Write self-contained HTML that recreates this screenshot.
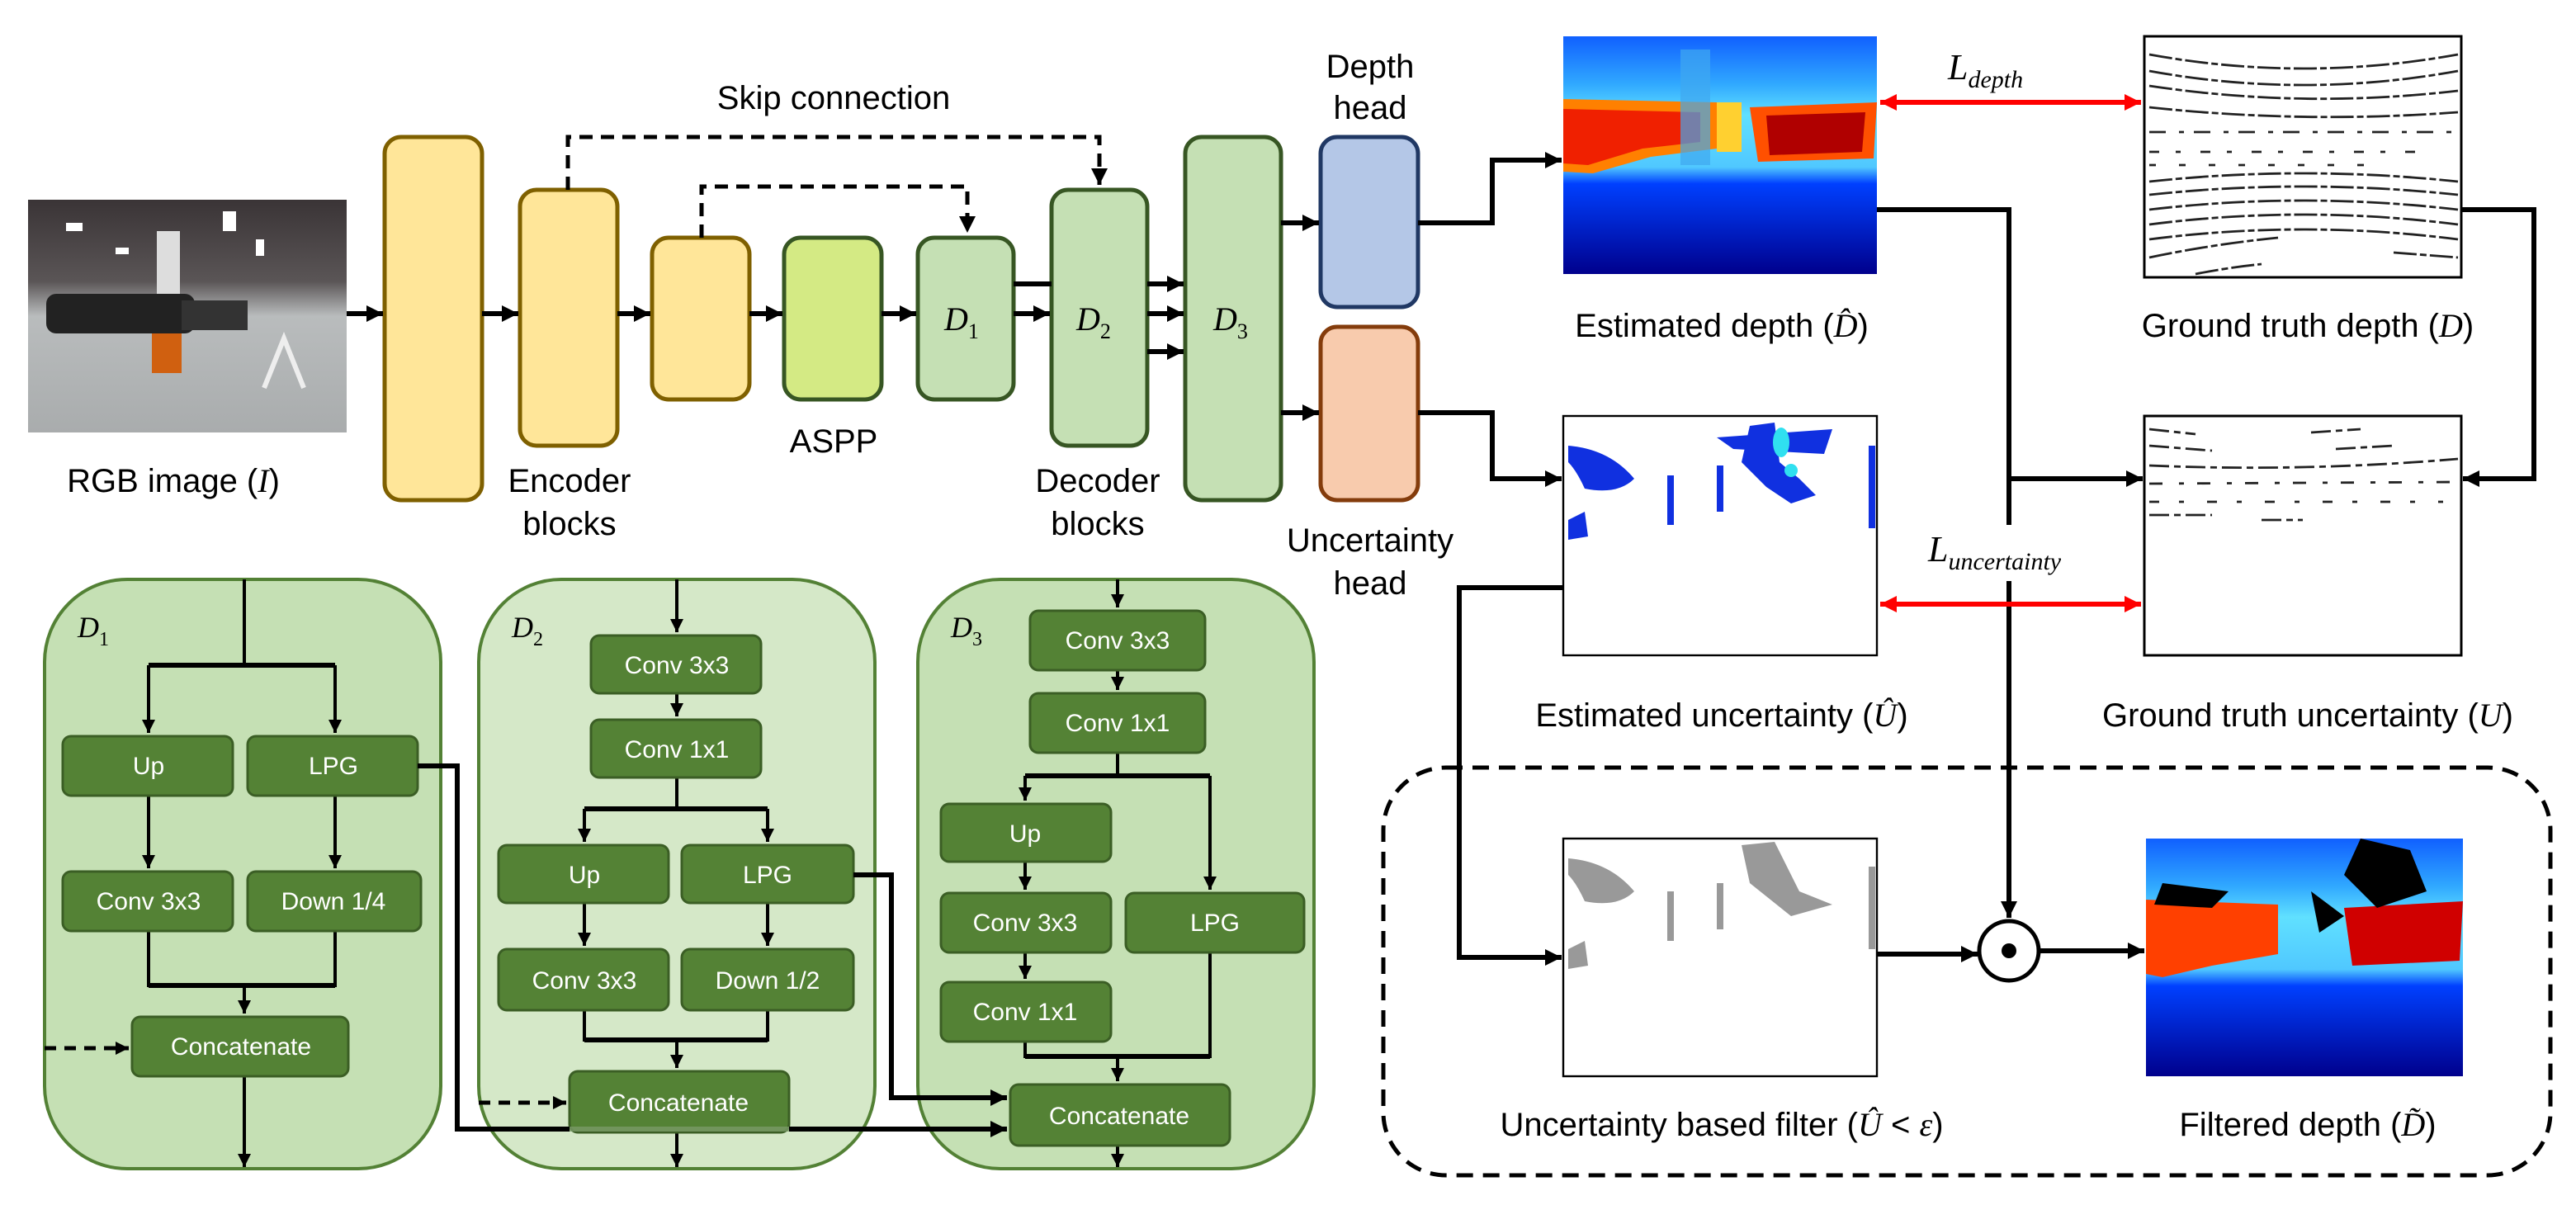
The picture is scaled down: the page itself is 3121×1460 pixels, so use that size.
<!DOCTYPE html>
<html><head><meta charset="utf-8"><style>
html,body{margin:0;padding:0;background:#fff}
svg{display:block}
text{font-family:"Liberation Sans",sans-serif}
.m{font-family:"Liberation Serif",serif;font-style:italic}
.bx{fill:#548235;stroke:#3b5e25;stroke-width:1.5}
.bt{fill:#fff;font-size:15px;text-anchor:middle}
.lbl{font-size:20px;text-anchor:middle;fill:#000}
</style></head><body>
<svg width="3121" height="1460" viewBox="0 0 1560.5 730" xmlns="http://www.w3.org/2000/svg">
<defs>
<marker id="a" markerUnits="userSpaceOnUse" markerWidth="12" markerHeight="12" refX="10" refY="5" orient="auto"><path d="M0,0 L10,5 L0,10 z" fill="#000"/></marker>
<marker id="as" markerUnits="userSpaceOnUse" markerWidth="10" markerHeight="10" refX="8" refY="4" orient="auto"><path d="M0,0 L8,4 L0,8 z" fill="#000"/></marker>
<marker id="r" markerUnits="userSpaceOnUse" markerWidth="12" markerHeight="12" refX="10" refY="5" orient="auto-start-reverse"><path d="M0,0 L10,5 L0,10 z" fill="#f00"/></marker>
<linearGradient id="rgb" x1="0" y1="0" x2="0" y2="1"><stop offset="0" stop-color="#3a3436"/><stop offset="0.35" stop-color="#5a5556"/><stop offset="0.5" stop-color="#b9bcbd"/><stop offset="1" stop-color="#a9acad"/></linearGradient>
<linearGradient id="dep" x1="0" y1="0" x2="0" y2="1"><stop offset="0" stop-color="#1060ff"/><stop offset="0.2" stop-color="#30a8ff"/><stop offset="0.33" stop-color="#60e0ff"/><stop offset="0.55" stop-color="#50c8ff"/><stop offset="0.62" stop-color="#0040ff"/><stop offset="1" stop-color="#00008c"/></linearGradient>
</defs>

<rect x="17" y="121" width="193" height="141" fill="url(#rgb)"/>
<rect x="95" y="140" width="14" height="80" fill="#ddd"/>
<rect x="92" y="200" width="18" height="26" fill="#d06010"/>
<rect x="28" y="178" width="90" height="24" rx="6" fill="#222"/>
<rect x="110" y="182" width="40" height="18" fill="#333"/>
<path d="M160 235 L172 205 L184 235" stroke="#eee" stroke-width="3" fill="none"/>
<g fill="#fff"><rect x="135" y="128" width="8" height="12"/><rect x="40" y="135" width="10" height="5"/><rect x="70" y="150" width="8" height="4"/><rect x="155" y="145" width="5" height="10"/></g>
<text class="lbl" x="105" y="298">RGB image (<tspan class="m">I</tspan>)</text>

<g stroke-width="2.5">
<rect x="233" y="83" width="59" height="220" rx="10" fill="#ffe699" stroke="#7f6000"/>
<rect x="315" y="115" width="59" height="155" rx="10" fill="#ffe699" stroke="#7f6000"/>
<rect x="395" y="144" width="59" height="98" rx="10" fill="#ffe699" stroke="#7f6000"/>
<rect x="475" y="144" width="59" height="98" rx="10" fill="#d4ea84" stroke="#375623"/>
<rect x="556" y="144" width="58" height="98" rx="10" fill="#c5e0b4" stroke="#375623"/>
<rect x="637" y="115" width="58" height="155" rx="10" fill="#c5e0b4" stroke="#375623"/>
<rect x="718" y="83" width="58" height="220" rx="10" fill="#c5e0b4" stroke="#375623"/>
<rect x="800" y="83" width="59" height="103" rx="10" fill="#b4c7e7" stroke="#203864"/>
<rect x="800" y="198" width="59" height="105" rx="10" fill="#f8cbad" stroke="#843c0c"/>
</g>
<text class="m" x="572" y="200" font-size="20">D<tspan font-size="13" dy="5" font-style="normal">1</tspan></text>
<text class="m" x="652" y="200" font-size="20">D<tspan font-size="13" dy="5" font-style="normal">2</tspan></text>
<text class="m" x="735" y="200" font-size="20">D<tspan font-size="13" dy="5" font-style="normal">3</tspan></text>

<g stroke="#000" stroke-width="3" fill="none" marker-end="url(#a)">
<line x1="210" y1="190" x2="232" y2="190"/>
<line x1="292" y1="190" x2="314" y2="190"/>
<line x1="374" y1="190" x2="394" y2="190"/>
<line x1="454" y1="190" x2="474" y2="190"/>
<line x1="534" y1="190" x2="555" y2="190"/>
<line x1="614" y1="190" x2="636" y2="190"/>
<line x1="695" y1="172" x2="717" y2="172"/>
<line x1="695" y1="190" x2="717" y2="190"/>
<line x1="695" y1="213" x2="717" y2="213"/>
<line x1="776" y1="135" x2="799" y2="135"/>
<line x1="776" y1="250" x2="799" y2="250"/>
</g>
<line x1="614" y1="172" x2="637" y2="172" stroke="#000" stroke-width="3"/>
<g stroke="#000" stroke-width="2.5" fill="none" stroke-dasharray="8,5">
<path d="M344 115 V83 H666 V112" marker-end="url(#a)"/>
<path d="M425 144 V113 H586 V141" marker-end="url(#a)"/>
</g>
<text class="lbl" x="505" y="66">Skip connection</text>
<text class="lbl" x="345" y="298">Encoder</text><text class="lbl" x="345" y="324">blocks</text>
<text class="lbl" x="505" y="274">ASPP</text>
<text class="lbl" x="665" y="298">Decoder</text><text class="lbl" x="665" y="324">blocks</text>
<text class="lbl" x="830" y="47">Depth</text><text class="lbl" x="830" y="72">head</text>
<text class="lbl" x="830" y="334">Uncertainty</text><text class="lbl" x="830" y="360">head</text>

<g stroke="#000" stroke-width="3" fill="none">
<path d="M859 135 H904 V97 H946" marker-end="url(#a)"/>
<path d="M859 250 H904 V290 H946" marker-end="url(#a)"/>
<path d="M1137 127 H1217 V556" marker-end="url(#a)"/>
<path d="M1217 290 H1298" marker-end="url(#a)"/>
<path d="M1491 127 H1535 V290 H1492" marker-end="url(#a)"/>
<path d="M947 356 H884 V580 H946" marker-end="url(#a)"/>
<path d="M1137 578 H1198" marker-end="url(#a)"/>
<path d="M1236 576 H1299" marker-end="url(#a)"/>
</g>
<g stroke="#f00" stroke-width="3" marker-start="url(#r)" marker-end="url(#r)">
<line x1="1139" y1="62" x2="1297" y2="62"/>
<line x1="1139" y1="366" x2="1297" y2="366"/>
</g>
<text class="m" x="1180" y="48" font-size="22">L<tspan font-size="15" dy="5">depth</tspan></text>
<rect x="1160" y="318" width="110" height="34" fill="#fff"/>
<text class="m" x="1168" y="340" font-size="22">L<tspan font-size="15" dy="5">uncertainty</tspan></text>

<rect x="947" y="22" width="190" height="144" fill="url(#dep)"/>
<path d="M947 60 L1040 62 L1040 90 L1000 95 L965 105 L947 104 Z" fill="#ff8000"/>
<path d="M947 66 L1030 68 L1030 86 L995 90 L962 100 L947 99 Z" fill="#f02000"/>
<path d="M1060 65 L1137 62 L1135 96 L1065 98 Z" fill="#ff5000"/>
<path d="M1070 70 L1130 68 L1128 92 L1072 94 Z" fill="#b00000"/>
<rect x="1040" y="62" width="15" height="30" fill="#ffd030"/>
<rect x="1018" y="30" width="18" height="70" fill="#40a8f0" opacity="0.7"/>
<text class="lbl" x="1043" y="204">Estimated depth (<tspan class="m">D̂</tspan>)</text>

<rect x="1299" y="22" width="192" height="146" fill="#fff" stroke="#000" stroke-width="1.5"/>
<g stroke="#222" stroke-width="1.4" fill="none" stroke-dasharray="14,2,4,2">
<path d="M1302 33 Q1395 50 1489 33"/><path d="M1302 43 Q1395 60 1489 43"/><path d="M1302 52 Q1395 66 1489 55"/>
<path d="M1302 65 Q1395 75 1489 68"/><path d="M1302 80 L1490 80" stroke-dasharray="10,8,3,6"/><path d="M1302 92 L1470 92" stroke-dasharray="6,10,3,12"/>
<path d="M1302 100 L1440 100" stroke-dasharray="4,14"/>
<path d="M1302 110 Q1395 100 1489 110"/><path d="M1302 118 Q1395 108 1489 118"/><path d="M1302 127 Q1395 116 1489 127"/>
<path d="M1302 136 Q1395 124 1489 136"/><path d="M1302 145 Q1395 133 1489 145"/><path d="M1302 156 Q1340 148 1380 144"/><path d="M1330 166 Q1350 162 1370 160"/><path d="M1450 153 L1489 156"/>
</g>
<text class="lbl" x="1398" y="204">Ground truth depth (<tspan class="m">D</tspan>)</text>

<rect x="947" y="252" width="190" height="145" fill="#fff" stroke="#000" stroke-width="1.2"/>
<g fill="#1030e0">
<path d="M950 270 Q975 272 990 290 Q980 300 960 296 Q955 285 950 280 Z"/>
<path d="M1060 258 L1075 256 L1078 280 L1090 290 L1100 300 L1085 305 L1070 295 L1055 280 Z"/>
<path d="M1040 265 L1110 260 L1105 275 L1050 272 Z"/>
<rect x="1010" y="288" width="4" height="30"/><rect x="1040" y="282" width="4" height="28"/><rect x="1132" y="270" width="4" height="50"/>
<path d="M950 315 L960 310 L962 325 L950 327 Z"/>
</g>
<ellipse cx="1079" cy="268" rx="5" ry="9" fill="#30e0f0"/><ellipse cx="1085" cy="285" rx="4" ry="4" fill="#30e0f0"/>
<text class="lbl" x="1043" y="440">Estimated uncertainty (<tspan class="m">Û</tspan>)</text>

<rect x="1299" y="252" width="192" height="145" fill="#fff" stroke="#000" stroke-width="1.5"/>
<g stroke="#222" stroke-width="1.4" fill="none" stroke-dasharray="12,3,4,3">
<path d="M1302 260 L1330 263"/><path d="M1302 270 L1340 273"/><path d="M1400 262 L1430 260"/><path d="M1415 272 L1450 270"/>
<path d="M1302 282 Q1395 286 1489 278"/><path d="M1302 293 L1489 292" stroke-dasharray="8,10,3,8"/><path d="M1302 304 L1480 304" stroke-dasharray="6,12,3,14"/><path d="M1302 312 L1340 312"/><path d="M1370 315 L1395 315"/>
</g>
<text class="lbl" x="1398" y="440">Ground truth uncertainty (<tspan class="m">U</tspan>)</text>

<rect x="838" y="465" width="707" height="247" rx="38" fill="none" stroke="#000" stroke-width="2.5" stroke-dasharray="10,6"/>
<rect x="947" y="508" width="190" height="144" fill="#fff" stroke="#000" stroke-width="1.2"/>
<g fill="#999">
<path d="M950 520 Q975 522 990 540 Q980 550 960 546 Q955 535 950 530 Z"/>
<path d="M1055 512 L1075 510 L1090 540 L1110 548 L1085 555 L1060 535 Z"/>
<rect x="1010" y="540" width="4" height="30"/><rect x="1040" y="535" width="4" height="28"/><rect x="1132" y="525" width="4" height="50"/>
<path d="M950 575 L960 570 L962 585 L950 587 Z"/>
</g>
<text class="lbl" x="1043" y="688">Uncertainty based filter (<tspan class="m">Û</tspan> &lt; <tspan class="m">ε</tspan>)</text>
<circle cx="1217" cy="576" r="18" fill="#fff" stroke="#000" stroke-width="2.5"/>
<circle cx="1217" cy="576" r="4.5" fill="#000"/>
<rect x="1300" y="508" width="192" height="144" fill="url(#dep)"/>
<path d="M1300 545 L1380 548 L1380 578 L1340 585 L1310 592 L1300 590 Z" fill="#ff4000"/>
<path d="M1420 550 L1492 546 L1490 582 L1425 585 Z" fill="#d00000"/>
<g fill="#000"><path d="M1430 508 L1460 515 L1470 540 L1440 550 L1420 530 Z"/><path d="M1310 535 L1350 540 L1340 550 L1305 548 Z"/><path d="M1400 540 L1420 555 L1405 565 Z"/></g>
<text class="lbl" x="1398" y="688">Filtered depth (<tspan class="m">D̃</tspan>)</text>

<rect x="27" y="351" width="240" height="357" rx="50" fill="#c5e0b4" stroke="#538135" stroke-width="2"/>
<rect x="290" y="351" width="240" height="357" rx="50" fill="#d5e8c8" stroke="#538135" stroke-width="2"/>
<rect x="556" y="351" width="240" height="357" rx="50" fill="#c5e0b4" stroke="#538135" stroke-width="2"/>
<text class="m" x="47" y="386" font-size="18">D<tspan font-size="12" dy="5" font-style="normal">1</tspan></text>
<text class="m" x="310" y="386" font-size="18">D<tspan font-size="12" dy="5" font-style="normal">2</tspan></text>
<text class="m" x="576" y="386" font-size="18">D<tspan font-size="12" dy="5" font-style="normal">3</tspan></text>

<g stroke="#000" stroke-width="2" fill="none">
<path d="M148 351 V403"/><path d="M90 403 H203" stroke-width="3"/>
<path d="M90 403 V444" marker-end="url(#as)"/><path d="M203 403 V444" marker-end="url(#as)"/>
<path d="M90 482 V526" marker-end="url(#as)"/><path d="M203 482 V526" marker-end="url(#as)"/>
<path d="M90 564 V597 H203 V564"/><path d="M90 597 H203" stroke-width="3"/>
<path d="M148 597 V614" marker-end="url(#as)"/>
<path d="M148 652 V707" marker-end="url(#as)"/>
<path d="M27 635 H78" stroke-width="2.5" stroke-dasharray="7,5" marker-end="url(#as)"/>
</g>
<rect class="bx" x="38" y="446" width="103" height="36" rx="5"/><text class="bt" x="90" y="469">Up</text>
<rect class="bx" x="150" y="446" width="103" height="36" rx="5"/><text class="bt" x="202" y="469">LPG</text>
<rect class="bx" x="38" y="528" width="103" height="36" rx="5"/><text class="bt" x="90" y="551">Conv 3x3</text>
<rect class="bx" x="150" y="528" width="105" height="36" rx="5"/><text class="bt" x="202" y="551">Down 1/4</text>
<rect class="bx" x="80" y="616" width="131" height="36" rx="5"/><text class="bt" x="146" y="639">Concatenate</text>

<g stroke="#000" stroke-width="2" fill="none">
<path d="M410 351 V383" marker-end="url(#as)"/>
<path d="M410 420 V434" marker-end="url(#as)"/>
<path d="M410 471 V490"/><path d="M354 490 H465" stroke-width="3"/>
<path d="M354 490 V510" marker-end="url(#as)"/><path d="M465 490 V510" marker-end="url(#as)"/>
<path d="M354 547 V573" marker-end="url(#as)"/><path d="M465 547 V573" marker-end="url(#as)"/>
<path d="M354 612 V630 H465 V612"/><path d="M354 630 H465" stroke-width="3"/>
<path d="M410 630 V647" marker-end="url(#as)"/>
<path d="M410 686 V707" marker-end="url(#as)"/>
<path d="M290 668 H343" stroke-width="2.5" stroke-dasharray="7,5" marker-end="url(#as)"/>
</g>
<rect class="bx" x="358" y="385" width="103" height="35" rx="5"/><text class="bt" x="410" y="408">Conv 3x3</text>
<rect class="bx" x="358" y="436" width="103" height="35" rx="5"/><text class="bt" x="410" y="459">Conv 1x1</text>
<rect class="bx" x="302" y="512" width="103" height="35" rx="5"/><text class="bt" x="354" y="535">Up</text>
<rect class="bx" x="413" y="512" width="104" height="35" rx="5"/><text class="bt" x="465" y="535">LPG</text>
<rect class="bx" x="302" y="575" width="103" height="37" rx="5"/><text class="bt" x="354" y="599">Conv 3x3</text>
<rect class="bx" x="413" y="575" width="104" height="37" rx="5"/><text class="bt" x="465" y="599">Down 1/2</text>
<rect class="bx" x="345" y="649" width="133" height="37" rx="5"/><text class="bt" x="411" y="673">Concatenate</text>

<g stroke="#000" stroke-width="2" fill="none">
<path d="M677 351 V368" marker-end="url(#as)"/>
<path d="M677 406 V418" marker-end="url(#as)"/>
<path d="M677 456 V470"/><path d="M621 470 H733" stroke-width="3"/>
<path d="M621 470 V485" marker-end="url(#as)"/><path d="M733 470 V539" marker-end="url(#as)"/>
<path d="M621 522 V539" marker-end="url(#as)"/>
<path d="M621 577 V593" marker-end="url(#as)"/>
<path d="M621 631 V640 H733 V577"/><path d="M621 640 H733" stroke-width="3"/>
<path d="M677 640 V655" marker-end="url(#as)"/>
<path d="M677 694 V707" marker-end="url(#as)"/>
</g>
<rect class="bx" x="624" y="370" width="106" height="36" rx="5"/><text class="bt" x="677" y="393">Conv 3x3</text>
<rect class="bx" x="624" y="420" width="106" height="36" rx="5"/><text class="bt" x="677" y="443">Conv 1x1</text>
<rect class="bx" x="570" y="487" width="103" height="35" rx="5"/><text class="bt" x="621" y="510">Up</text>
<rect class="bx" x="570" y="541" width="103" height="36" rx="5"/><text class="bt" x="621" y="564">Conv 3x3</text>
<rect class="bx" x="682" y="541" width="108" height="36" rx="5"/><text class="bt" x="736" y="564">LPG</text>
<rect class="bx" x="570" y="595" width="103" height="36" rx="5"/><text class="bt" x="621" y="618">Conv 1x1</text>
<rect class="bx" x="612" y="657" width="133" height="37" rx="5"/><text class="bt" x="678" y="681">Concatenate</text>

<g stroke="#000" stroke-width="3" fill="none">
<path d="M253 464 H277 V684 H345" />
<path d="M478 684 H610" marker-end="url(#a)"/>
<path d="M517 530 H540 V665 H610" marker-end="url(#a)"/>
</g>
<line x1="345" y1="684" x2="478" y2="684" stroke="#7a9a68" stroke-width="3" opacity="0.8"/>
</svg>
</body></html>
